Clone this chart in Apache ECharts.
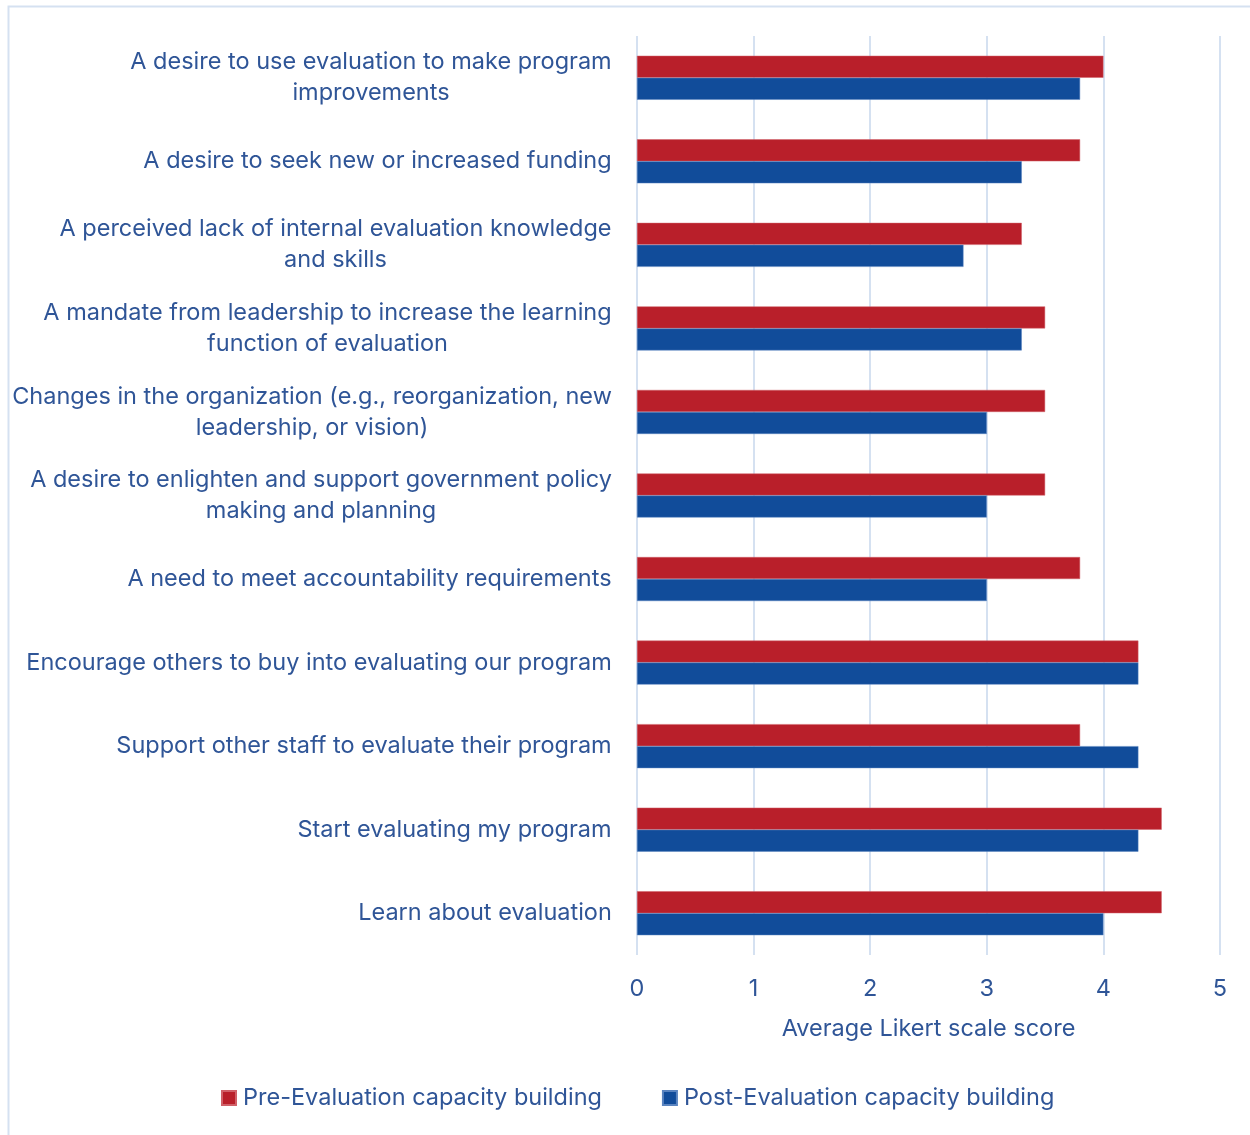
<!DOCTYPE html>
<html>
<head>
<meta charset="utf-8">
<style>
  html, body { margin: 0; padding: 0; background: #ffffff; }
  #chart { width: 1250px; height: 1135px; }
</style>
<script src="https://cdn.jsdelivr.net/npm/echarts@6/dist/echarts.min.js"></script>
</head>
<body>
<div id="chart"></div>
<script>
// Reasons / activities, listed top to bottom
const categories = [
  'A desire to use evaluation to make program\nimprovements',
  'A desire to seek new or increased funding',
  'A perceived lack of internal evaluation knowledge\nand skills',
  'A mandate from leadership to increase the learning\nfunction of evaluation',
  'Changes in the organization (e.g., reorganization, new\nleadership, or vision)',
  'A desire to enlighten and support government policy\nmaking and planning',
  'A need to meet accountability requirements',
  'Encourage others to buy into evaluating our program',
  'Support other staff to evaluate their program',
  'Start evaluating my program',
  'Learn about evaluation'
];

// Average Likert scale scores
const preScores  = [4.0, 3.8, 3.3, 3.5, 3.5, 3.5, 3.8, 4.3, 3.8, 4.5, 4.5];
const postScores = [3.8, 3.3, 2.8, 3.3, 3.0, 3.0, 3.0, 4.3, 4.3, 4.3, 4.0];

const seriesNames = ['Pre-Evaluation capacity building', 'Post-Evaluation capacity building'];
const axisTicks = [0, 1, 2, 3, 4, 5];

const textColor = '#2F5597';
const fontFamily = 'Inter, "Open Sans", sans-serif';
const fontSize = 23.5;

// Each wrapped label is centred line-by-line inside its own block, so every
// category gets a rich style whose width equals its widest line.
const measureCtx = document.createElement('canvas').getContext('2d');
measureCtx.font = fontSize + 'px ' + fontFamily;
const labelRich = {};
categories.forEach(function (label, i) {
  const lines = label.split('\n');
  const w = Math.ceil(Math.max.apply(null, lines.map(function (l) { return measureCtx.measureText(l).width; })));
  labelRich['c' + i] = {
    width: w,
    align: 'center',
    fontSize: fontSize,
    lineHeight: 31,
    color: textColor,
    fontFamily: fontFamily
  };
});

const chart = echarts.init(document.getElementById('chart'), null, { renderer: 'canvas' });

chart.setOption({
  backgroundColor: '#ffffff',
  textStyle: { fontFamily: fontFamily, color: textColor },
  animation: false,
  graphic: [{
    type: 'rect',
    shape: { x: 8.5, y: 6.5, width: 1260, height: 1140 },
    style: { fill: 'none', stroke: '#D5E1F1', lineWidth: 2 },
    silent: true,
    z: -1
  }],
  legend: {
    bottom: 20,
    left: 216,
    itemGap: 60,
    itemWidth: 14,
    itemHeight: 14,
    icon: 'rect',
    textStyle: { fontSize: fontSize, color: textColor, fontFamily: fontFamily, padding: [0, 0, 0, 2] },
    data: seriesNames
  },
  grid: {
    left: 637,
    right: 30,
    top: 36,
    bottom: 180,
    containLabel: false
  },
  xAxis: {
    type: 'value',
    min: axisTicks[0],
    max: axisTicks[axisTicks.length - 1],
    interval: 1,
    name: 'Average Likert scale score',
    nameLocation: 'middle',
    nameGap: 62,
    nameTextStyle: { fontSize: fontSize, color: textColor, fontFamily: fontFamily },
    axisLine: { show: false },
    axisTick: { show: false },
    axisLabel: { fontSize: fontSize, color: textColor, margin: 22, fontFamily: fontFamily },
    splitLine: { show: true, lineStyle: { color: '#D5E1F1', width: 2 } }
  },
  yAxis: {
    type: 'category',
    inverse: true,
    data: categories,
    axisLine: { show: false },
    axisTick: { show: false },
    axisLabel: {
      fontSize: fontSize,
      color: textColor,
      margin: 25,
      lineHeight: 31,
      align: 'right',
      fontFamily: fontFamily,
      rich: labelRich,
      formatter: function (value, index) {
        return value.split('\n').map(function (l) { return '{c' + index + '|' + l + '}'; }).join('\n');
      }
    }
  },
  series: [
    {
      name: seriesNames[0],
      type: 'bar',
      data: preScores,
      barWidth: 22,
      barGap: '0%',
      itemStyle: { color: '#B91F2A', borderColor: '#D06068', borderWidth: 0.5 }
    },
    {
      name: seriesNames[1],
      type: 'bar',
      data: postScores,
      barWidth: 22,
      barGap: '0%',
      itemStyle: { color: '#114C9A', borderColor: '#5A84C0', borderWidth: 0.5 }
    }
  ]
});
</script>
</body>
</html>
